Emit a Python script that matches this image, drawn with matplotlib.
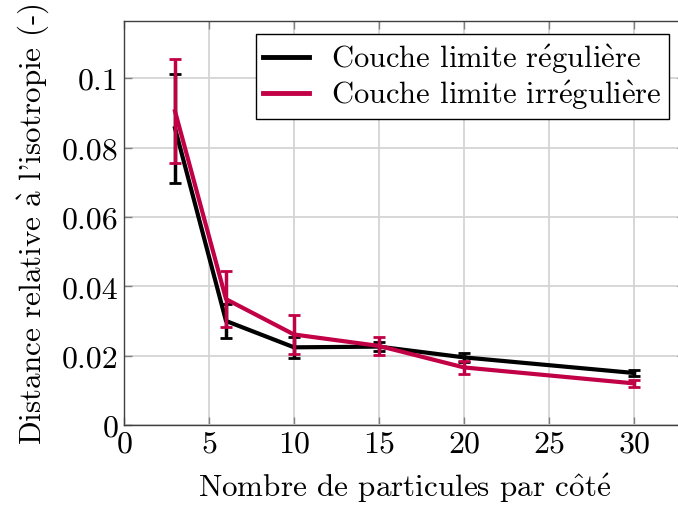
import numpy as np
import matplotlib.pyplot as plt
from matplotlib.lines import Line2D
from matplotlib.ticker import FuncFormatter

plt.rcParams["font.family"] = "cmr10"
plt.rcParams["mathtext.fontset"] = "cm"
plt.rcParams["axes.formatter.use_mathtext"] = True

# particles per side and isotropy distance (mean +- std)
n_part = [3, 6, 10, 15, 20, 30]

reg_mean = [0.0856, 0.0300, 0.0224, 0.0226, 0.0195, 0.0150]
reg_err = [0.0157, 0.0050, 0.0030, 0.0012, 0.0013, 0.0009]

irr_mean = [0.0905, 0.0363, 0.0261, 0.0228, 0.0166, 0.0120]
irr_err = [0.0150, 0.0081, 0.0056, 0.0027, 0.0020, 0.0011]

xticks = [0, 5, 10, 15, 20, 25, 30]
yticks = [0, 0.02, 0.04, 0.06, 0.08, 0.1]

labels = [r"Couche limite r$\mathrm{\acute{e}}$guli$\mathrm{\grave{e}}$re",
          r"Couche limite irr$\mathrm{\acute{e}}$guli$\mathrm{\grave{e}}$re"]

RED = "#c20046"

fig = plt.figure(figsize=(6.78, 5.06), dpi=100)
ax = fig.add_axes([0.1829, 0.1581, 0.8274, 0.7984])

ax.errorbar(n_part, reg_mean, yerr=reg_err, color="black", lw=3,
            elinewidth=2.5, capsize=4, capthick=2, zorder=3)
ax.errorbar(n_part, irr_mean, yerr=irr_err, color=RED, lw=3,
            elinewidth=2.5, capsize=4, capthick=2, zorder=4)

ax.set_xlim(0, 33)
ax.set_ylim(0, 0.1165)
ax.set_xticks(xticks)
ax.set_yticks(yticks)
ax.yaxis.set_major_formatter(FuncFormatter(lambda v, p: "%g" % v))
ax.grid(True, color="#d4d4d4", lw=1.3, zorder=0)
ax.set_axisbelow(True)
ax.tick_params(direction="in", length=6, width=1, color="#808080",
               labelsize=23, top=True, right=True, pad=4)

for s in ax.spines.values():
    s.set_color("#404040")
    s.set_linewidth(1.0)

ax.set_xlabel(r"Nombre de particules par c$\mathrm{\hat{o}}$t$\mathrm{\acute{e}}$",
              fontsize=22.4, labelpad=9)
ax.set_ylabel(r"Distance relative $\mathrm{\grave{a}}$ l'isotropie (-)",
              fontsize=22.4, labelpad=8)

# plain line handles in the legend
handles = [Line2D([], [], color="black", lw=3.5),
           Line2D([], [], color=RED, lw=3.5)]
leg = ax.legend(handles, labels, loc="upper right",
                bbox_to_anchor=(0.986, 0.931),
                bbox_transform=fig.transFigure, fontsize=22,
                fancybox=False, framealpha=1, edgecolor="black",
                handlelength=1.5, handletextpad=0.7, borderpad=0.25,
                labelspacing=0.08, borderaxespad=0)
leg.get_frame().set_linewidth(1.0)

fig.savefig("out.png", dpi=100)
